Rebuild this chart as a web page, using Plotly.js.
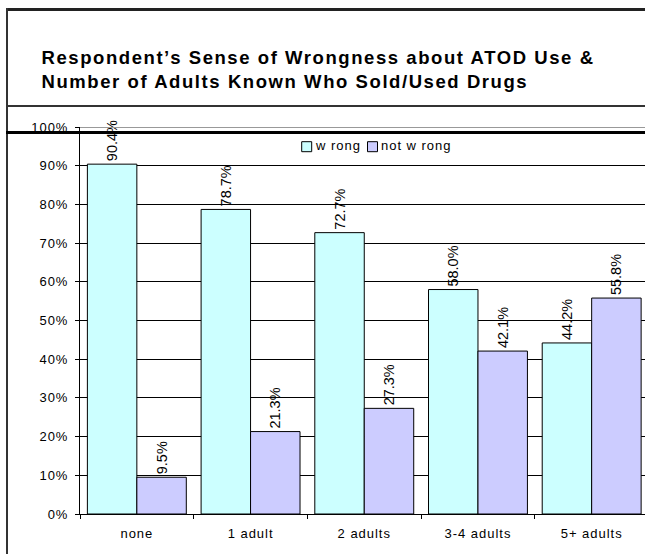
<!DOCTYPE html>
<html>
<head>
<meta charset="utf-8">
<script src="https://cdn.plot.ly/plotly-3.0.1.min.js"></script>
<style>
  html, body { margin: 0; padding: 0; background: #fff; overflow: hidden; }
  #frame { position: relative; width: 645px; height: 554px; overflow: hidden; }
  #chart { position: absolute; left: 0; top: 0; width: 645px; height: 554px; }
  .rule { position: absolute; pointer-events: none; z-index: 5; }
  /* wide-set lettering for title, tick labels and key */
  #chart .xtick text, #chart .ytick text, #chart .textpoint text { letter-spacing: 0.075em; }
  #chart text.gtitle { letter-spacing: 0.085em; }
</style>
</head>
<body>
<div id="frame">
  <div id="chart"></div>
  <!-- box and rules framing the title block -->
  <div class="rule" style="left:6px; top:8px; width:639px; height:2.7px; background:#222;"></div>
  <div class="rule" style="left:6px; top:8px; width:2.2px; height:546px; background:#333;"></div>
  <div class="rule" style="left:6px; top:105px; width:639px; height:1.6px; background:#333;"></div>
  <div class="rule" style="left:80px; top:126.7px; width:565px; height:1.3px; background:#999;"></div>
  <div class="rule" style="left:6px; top:131.1px; width:639px; height:3px; background:#000;"></div>
</div>
<script>
// Categories: number of adults known who sold/used drugs
const categories = ['none', '1 adult', '2 adults', '3-4 adults', '5+ adults'];
// Share of respondents (%) by sense of wrongness
const wrongPct = [90.4, 78.7, 72.7, 58.0, 44.2];
const notWrongPct = [9.5, 21.3, 27.3, 42.1, 55.8];
const seriesNames = ['w rong', 'not w rong'];
const seriesColors = ['#CCFFFF', '#CCCCFF'];
const titleLines = [
  'Respondent\u2019s Sense of Wrongness about ATOD Use &',
  'Number of Adults Known Who Sold/Used Drugs'
];

// Layout geometry
const W = 645, H = 554;
const M = { l: 80, r: 0, t: 127, b: 40 };
const FONT = 'Liberation Sans, Arial, sans-serif';

const traces = [wrongPct, notWrongPct].map((vals, i) => ({
  type: 'bar',
  name: seriesNames[i],
  x: categories,
  y: vals,
  marker: { color: seriesColors[i], line: { color: '#000', width: 1 } },
  texttemplate: '%{y:.1f}%',
  textposition: 'outside',
  textangle: -90,
  textfont: { family: FONT, size: 14.5, color: '#000' },
  constraintext: 'none',
  cliponaxis: false,
  hoverinfo: 'x+y+name',
  showlegend: false
}));

// Series key, placed on a hidden pixel-scaled overlay axis pair
const keySwatchX = [306.7, 372.5];
const keyLabelX = [316, 381];
const keyY = 146.7;
traces.push({
  type: 'scatter', mode: 'markers', xaxis: 'x2', yaxis: 'y2',
  x: keySwatchX, y: keySwatchX.map(() => keyY),
  marker: { symbol: 'square', size: 10, color: seriesColors, line: { color: '#000', width: 1 } },
  hoverinfo: 'skip', showlegend: false, cliponaxis: false
});
traces.push({
  type: 'scatter', mode: 'text', xaxis: 'x2', yaxis: 'y2',
  x: keyLabelX, y: keyLabelX.map(() => keyY),
  text: seriesNames, textposition: 'middle right',
  textfont: { family: FONT, size: 13, color: '#000' },
  hoverinfo: 'skip', showlegend: false, cliponaxis: false
});

const layout = {
  width: W, height: H,
  margin: M,
  paper_bgcolor: '#fff', plot_bgcolor: '#fff',
  font: { family: FONT, size: 13, color: '#000' },
  title: {
    text: titleLines.join('<br>'),
    font: { family: FONT, size: 18.5, color: '#000', weight: 'bold' },
    xref: 'container', yref: 'container',
    x: 41.5 / W, xanchor: 'left',
    y: 1 - 64.4 / H, yanchor: 'middle'
  },
  barmode: 'group',
  bargap: 0.13,
  bargroupgap: 0,
  xaxis: {
    type: 'category',
    range: [-0.5, 4.469],
    tickson: 'boundaries',
    ticks: 'outside', ticklen: 4, tickcolor: '#000', tickwidth: 1,
    showline: true, linecolor: '#000', linewidth: 1,
    showgrid: false, zeroline: false,
    ticklabelstandoff: 7,
    tickfont: { family: FONT, size: 13, color: '#000' },
    fixedrange: true
  },
  yaxis: {
    range: [0, 100], dtick: 10, ticksuffix: '%',
    ticks: 'outside', ticklen: 4, tickcolor: '#000', tickwidth: 1,
    showline: true, linecolor: '#000', linewidth: 1,
    showgrid: true, gridcolor: '#000', gridwidth: 1,
    zeroline: false,
    ticklabelstandoff: 4,
    tickfont: { family: FONT, size: 13, color: '#000' },
    fixedrange: true
  },
  xaxis2: { overlaying: 'x', range: [M.l, W], visible: false, fixedrange: true },
  yaxis2: { overlaying: 'y', range: [H - M.b, M.t], visible: false, fixedrange: true },
  showlegend: false
};

Plotly.newPlot('chart', traces, layout, { displayModeBar: false, staticPlot: true });
</script>
</body>
</html>
